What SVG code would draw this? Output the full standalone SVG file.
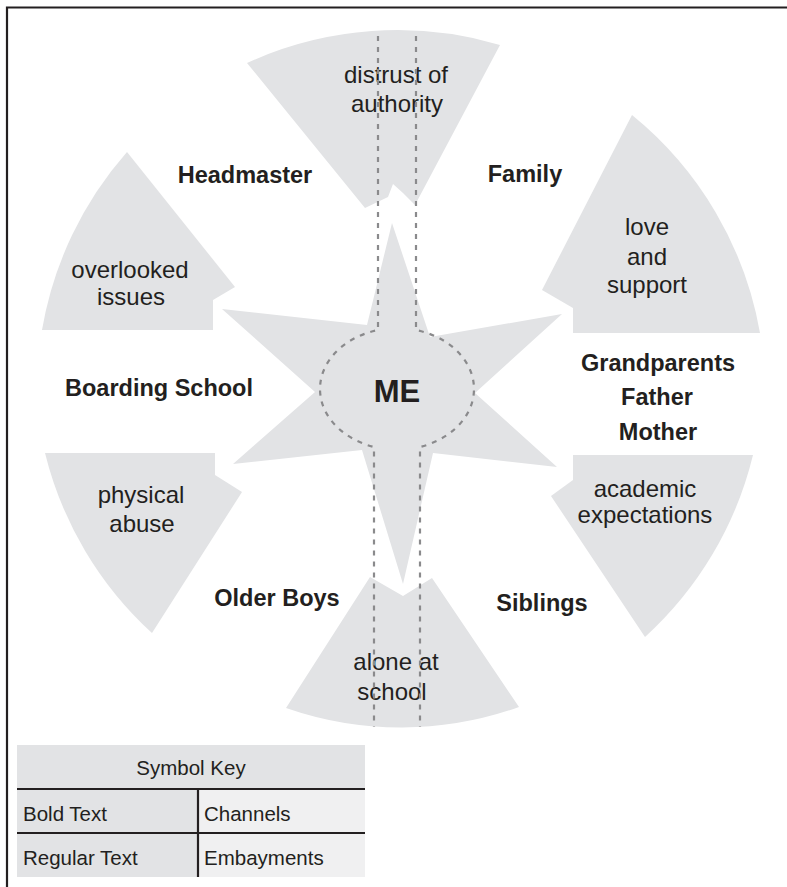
<svg xmlns="http://www.w3.org/2000/svg" width="787" height="887" viewBox="0 0 787 887">
  <style>
    .area { fill: #e2e3e5; }
    .bold { font-family: "Liberation Sans", Arial, sans-serif; font-weight: bold; font-size: 23.5px; fill: #231f20; text-anchor: middle; }
    .reg { font-family: "Liberation Sans", Arial, sans-serif; font-size: 24px; fill: #231f20; text-anchor: middle; }
    .key { font-family: "Liberation Sans", Arial, sans-serif; font-size: 20.5px; fill: #231f20; }
    .channel { fill: none; stroke: #8a8a8c; stroke-width: 2.2; stroke-dasharray: 5 6; }
    .rule { stroke: #231f20; stroke-width: 2.2; fill: none; }
    .big { font-size: 31px; }
  </style>

  <rect width="787" height="887" fill="#ffffff"/>

  <!-- frame -->
  <path class="rule" d="M7,887 V7.5 H787" stroke-width="2.6"/>

  <!-- outer embayment sectors -->
  <g id="sector-top">
    <path class="area" d="M247,63 A361,361 0 0 1 500,45 L415,205 L403,193 L393,184 L388,197 L365,208 Z"/>
    <text class="reg" x="396" y="83">distrust of</text>
    <text class="reg" x="397" y="112">authority</text>
  </g>
  <g id="sector-upper-left">
    <path class="area" d="M127,152 L235,287 L213,300 L213,330 L42,330 A361,361 0 0 1 127,152 Z"/>
    <text class="reg" x="130" y="278">overlooked</text>
    <text class="reg" x="131" y="305">issues</text>
  </g>
  <g id="sector-upper-right">
    <path class="area" d="M632,115 A361,361 0 0 1 760,333 L573,333 L573,308 L542,290 Z"/>
    <text class="reg" x="647" y="235">love</text>
    <text class="reg" x="647" y="265">and</text>
    <text class="reg" x="647" y="293">support</text>
  </g>
  <g id="sector-lower-right">
    <path class="area" d="M573,455 L753,455 A361,361 0 0 1 645,637 L551,496 L573,480 Z"/>
    <text class="reg" x="645" y="497">academic</text>
    <text class="reg" x="645" y="523">expectations</text>
  </g>
  <g id="sector-lower-left">
    <path class="area" d="M45,453 L215,453 L215,475 L242,492 L152,633 A361,361 0 0 1 45,453 Z"/>
    <text class="reg" x="141" y="503">physical</text>
    <text class="reg" x="142" y="532">abuse</text>
  </g>
  <g id="sector-bottom">
    <path class="area" d="M370,577 L403,596 L432,578 L519,707 A350,350 0 0 1 286,708 Z"/>
    <text class="reg" x="396" y="670">alone at</text>
    <text class="reg" x="392" y="700">school</text>
  </g>

  <!-- central star -->
  <g id="me">
    <polygon class="area" points="392,223 430,337 562,314 475,393 557,467 433,453 403,584 362,450 233,464 315,392 222,309 367,325"/>
  </g>

  <!-- channels -->
  <g id="channels">
    <path class="channel" d="M378,36 V330 A78,61 0 0 0 374,447 V727"/>
    <path class="channel" d="M416,36 V330 A78,61 0 0 1 420,447 V727"/>
  </g>

  <g id="me-label">
    <text class="bold big" x="397" y="402">ME</text>
  </g>

  <!-- channel labels -->
  <g id="labels">
    <text class="bold" x="245" y="183">Headmaster</text>
    <text class="bold" x="525" y="182">Family</text>
    <text class="bold" x="159" y="396">Boarding School</text>
    <text class="bold" x="658" y="371">Grandparents</text>
    <text class="bold" x="657" y="405">Father</text>
    <text class="bold" x="658" y="440">Mother</text>
    <text class="bold" x="277" y="606">Older Boys</text>
    <text class="bold" x="542" y="611">Siblings</text>
  </g>

  <!-- symbol key -->
  <g id="symbol-key">
    <rect x="17" y="745" width="348" height="132" fill="#e2e3e5"/>
    <rect x="198" y="789" width="167" height="88" fill="#f0f0f1"/>
    <path class="rule" d="M17,789 H365 M17,833 H365 M198,789 V877"/>
    <text class="key" x="191" y="775" text-anchor="middle">Symbol Key</text>
    <text class="key" x="23" y="821">Bold Text</text>
    <text class="key" x="204" y="821">Channels</text>
    <text class="key" x="23" y="865">Regular Text</text>
    <text class="key" x="204" y="865">Embayments</text>
  </g>
</svg>
